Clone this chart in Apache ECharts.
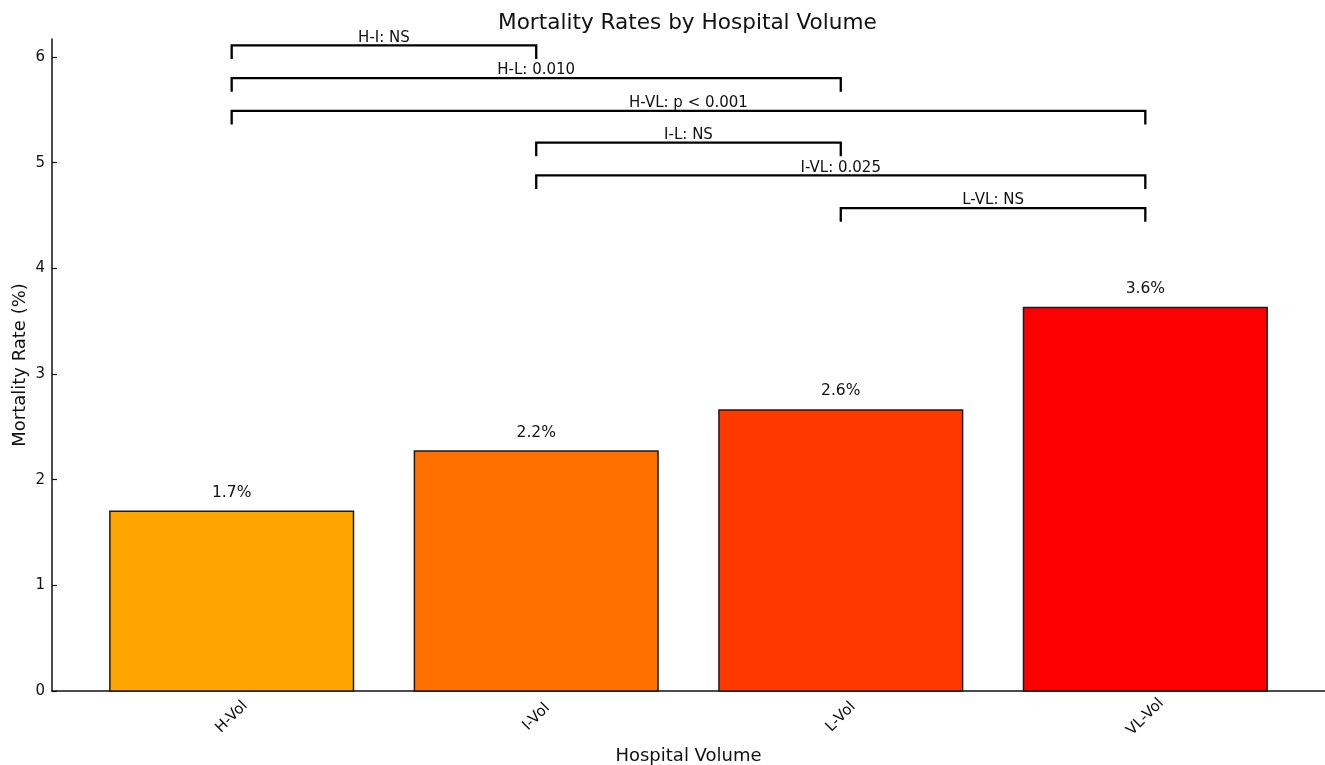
<!DOCTYPE html>
<html>
<head>
<meta charset="utf-8">
<script src="https://cdn.jsdelivr.net/npm/echarts@6/dist/echarts.min.js"></script>
<style>
  html, body { margin: 0; padding: 0; background: #fff; }
  #chart { width: 1325px; height: 765px; }
</style>
</head>
<body>
<div id="chart"></div>
<script>
var categories = ['H-Vol', 'I-Vol', 'L-Vol', 'VL-Vol'];
var rates = [1.70, 2.27, 2.66, 3.63];
var rateLabels = ['1.7%', '2.2%', '2.6%', '3.6%'];
var barColors = ['#FFA500', '#FF6F00', '#FF3800', '#FF0000'];

// comparison brackets: [from category, to category, height]
var brackets = [
    [0, 1, 6.11],
    [0, 2, 5.80],
    [0, 3, 5.49],
    [1, 2, 5.19],
    [1, 3, 4.88],
    [2, 3, 4.57]
];
var bracketLabels = ['H-I: NS', 'H-L: 0.010', 'H-VL: p < 0.001', 'I-L: NS', 'I-VL: 0.025', 'L-VL: NS'];
var yTicks = [0, 1, 2, 3, 4, 5, 6];
var xTicks = [0, 1, 2, 3];

var FONT = 'DejaVu Sans';
var myChart = echarts.init(document.getElementById('chart'));

var barData = rates.map(function (v, i) { return [i, v]; });

option = {
    animation: false,
    backgroundColor: '#fff',
    textStyle: { fontFamily: FONT },
    title: {
        text: 'Mortality Rates by Hospital Volume',
        left: 498,
        top: 12,
        padding: 0,
        textStyle: { fontFamily: FONT, fontSize: 21.6, fontWeight: 'normal', color: '#111' }
    },
    grid: { left: 52, right: 0, top: 39, bottom: 74, outerBoundsMode: 'none', containLabel: false },
    xAxis: {
        type: 'value',
        min: -0.59,
        max: 3.59,
        name: 'Hospital Volume',
        nameLocation: 'middle',
        nameGap: 56,
        nameTextStyle: { fontFamily: FONT, fontSize: 18, color: '#111' },
        axisLine: { show: true, lineStyle: { color: '#111', width: 1.5 } },
        axisTick: { show: true, inside: true, length: 5, customValues: xTicks, lineStyle: { color: '#111', width: 1.2 } },
        axisLabel: {
            customValues: xTicks,
            rotate: 45,
            align: 'center',
            verticalAlign: 'middle',
            margin: 26,
            fontSize: 15,
            fontFamily: FONT,
            color: '#111',
            formatter: function (v) { return categories[Math.round(v)]; }
        },
        splitLine: { show: false }
    },
    yAxis: {
        type: 'value',
        min: 0,
        max: 6.17,
        name: 'Mortality Rate (%)',
        nameLocation: 'middle',
        nameGap: 23,
        nameMoveOverlap: false,
        nameTextStyle: { fontFamily: FONT, fontSize: 18, color: '#111' },
        axisLine: { show: true, onZero: false, lineStyle: { color: '#111', width: 1.5 } },
        axisTick: { show: true, inside: true, length: 5, customValues: yTicks, lineStyle: { color: '#111', width: 1.2 } },
        axisLabel: { customValues: yTicks, margin: 7, fontSize: 15, fontFamily: FONT, color: '#111' },
        splitLine: { show: false }
    },
    series: [
        {
            type: 'custom',
            name: 'bars',
            data: barData,
            encode: { x: 0, y: 1 },
            renderItem: function (params, api) {
                var i = params.dataIndex;
                var x = api.value(0), v = api.value(1);
                var p0 = api.coord([x - 0.4, v]);
                var p1 = api.coord([x + 0.4, 0]);
                var pl = api.coord([x, v + 0.1]);
                return {
                    type: 'group',
                    children: [{
                        type: 'rect',
                        shape: { x: p0[0], y: p0[1], width: p1[0] - p0[0], height: p1[1] - p0[1] },
                        style: { fill: barColors[i], stroke: '#1a1a1a', lineWidth: 1.5 }
                    }, {
                        type: 'text',
                        style: {
                            text: rateLabels[i], x: pl[0], y: pl[1],
                            align: 'center', verticalAlign: 'bottom',
                            fontSize: 15.5, fontFamily: FONT, fill: '#111'
                        }
                    }]
                };
            }
        },
        {
            type: 'custom',
            name: 'brackets',
            data: brackets,
            encode: { x: [0, 1], y: 2 },
            clip: false,
            renderItem: function (params, api) {
                var i = params.dataIndex;
                var x1 = api.value(0), x2 = api.value(1), h = api.value(2);
                var a = api.coord([x1, h - 0.13]);
                var b = api.coord([x1, h]);
                var c = api.coord([x2, h]);
                var d = api.coord([x2, h - 0.13]);
                var m = api.coord([(x1 + x2) / 2, h]);
                return {
                    type: 'group',
                    children: [{
                        type: 'polyline',
                        shape: { points: [a, b, c, d] },
                        style: { stroke: '#000', lineWidth: 2.3, fill: null }
                    }, {
                        type: 'text',
                        style: {
                            text: bracketLabels[i], x: m[0], y: m[1],
                            align: 'center', verticalAlign: 'bottom',
                            fontSize: 15, fontFamily: FONT, fill: '#111'
                        }
                    }]
                };
            }
        }
    ]
};

myChart.setOption(option);
</script>
</body>
</html>
